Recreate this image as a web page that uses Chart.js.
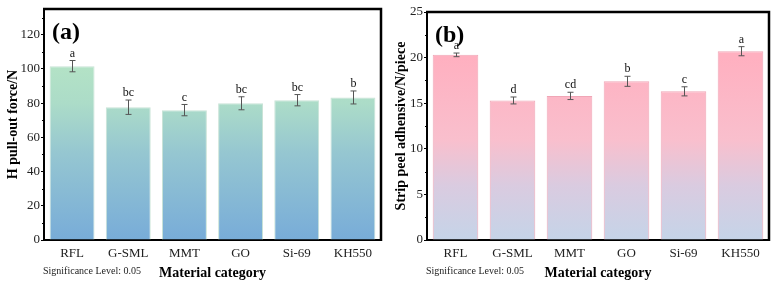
<!DOCTYPE html>
<html lang="en">
<head>
    <meta charset="UTF-8">
    <title>Pull-out force and strip peel</title>
    <script src="https://cdn.jsdelivr.net/npm/chart.js@4.4.0/dist/chart.umd.min.js"></script>
    <style>
        body {
            margin: 0;
            background: #fff;
            width: 778px;
            height: 288px;
            overflow: hidden;
        }
        .wrap {
            display: flex;
        }
        canvas {
            display: block;
        }
    </style>
</head>
<body>
    <div class="wrap">
        <canvas id="chartA" width="388" height="288"></canvas>
        <canvas id="chartB" width="390" height="288"></canvas>
    </div>

    <script>
        // data
        var categories = ['RFL', 'G-SML', 'MMT', 'GO', 'Si-69', 'KH550'];

        var pullOut = [101.6, 77.6, 75.9, 79.9, 81.7, 83.3];
        var pullOutErr = [3.3, 4.2, 3.3, 3.8, 3.3, 3.8];
        var pullOutLetters = ['a', 'bc', 'c', 'bc', 'bc', 'b'];

        var peel = [20.3, 15.3, 15.8, 17.4, 16.3, 20.7];
        var peelErr = [0.2, 0.38, 0.4, 0.55, 0.5, 0.5];
        var peelLetters = ['a', 'd', 'cd', 'b', 'c', 'a'];

        var FONT = "'Liberation Serif', 'Times New Roman', serif";

        // vertical gradient in value space: stops = [[frac, color], ...]
        function makeGradient(topValue, stops, fallback) {
            return function(context) {
                var chart = context.chart;
                if (!chart.chartArea) return fallback;
                var y = chart.scales.y;
                var g = chart.ctx.createLinearGradient(0, y.getPixelForValue(0), 0, y.getPixelForValue(topValue));
                stops.forEach(function(s) { g.addColorStop(s[0], s[1]); });
                return g;
            };
        }

        // error bars, letters, frame, minor ticks, labels
        var extras = {
            id: 'extras',
            afterDatasetsDraw: function(chart, args, opts) {
                var ctx = chart.ctx;
                var area = chart.chartArea;
                var x = chart.scales.x, y = chart.scales.y;
                ctx.save();

                // error bars + significance letters
                ctx.strokeStyle = '#555';
                ctx.lineWidth = 1;
                ctx.fillStyle = '#111';
                ctx.font = '12px ' + FONT;
                ctx.textAlign = 'center';
                ctx.textBaseline = 'bottom';
                opts.values.forEach(function(v, i) {
                    var cx = Math.round(x.getPixelForValue(i)) + 0.5;
                    var yt = y.getPixelForValue(v + opts.err[i]);
                    var yb = y.getPixelForValue(v - opts.err[i]);
                    ctx.beginPath();
                    ctx.moveTo(cx, yt); ctx.lineTo(cx, yb);
                    ctx.moveTo(cx - 3, yt); ctx.lineTo(cx + 3, yt);
                    ctx.moveTo(cx - 3, yb); ctx.lineTo(cx + 3, yb);
                    ctx.stroke();
                    ctx.fillText(opts.letters[i], cx, yt - 1);
                });

                // minor ticks on y
                ctx.strokeStyle = '#000';
                ctx.lineWidth = 1;
                ctx.beginPath();
                for (var m = opts.minor; m < y.max; m += opts.minor * 2) {
                    var py = Math.round(y.getPixelForValue(m)) + 0.5;
                    ctx.moveTo(area.left - 2, py);
                    ctx.lineTo(area.left, py);
                }
                ctx.stroke();

                // top and right frame
                ctx.lineWidth = 2.5;
                ctx.beginPath();
                ctx.moveTo(area.left - 1, area.top);
                ctx.lineTo(area.right, area.top);
                ctx.lineTo(area.right, area.bottom + 1);
                ctx.stroke();

                // panel label
                ctx.fillStyle = '#000';
                ctx.font = 'bold 24px ' + FONT;
                ctx.textAlign = 'left';
                ctx.textBaseline = 'alphabetic';
                ctx.fillText(opts.panel, area.left + 8, area.top + 30);

                // significance note
                ctx.font = '10px ' + FONT;
                ctx.fillStyle = '#222';
                ctx.textBaseline = 'middle';
                ctx.fillText('Significance Level: 0.05', area.left - 1, 271);

                ctx.restore();
            }
        };

        function buildChart(id, opt) {
            var ctx = document.getElementById(id).getContext('2d');
            return new Chart(ctx, {
                type: 'bar',
                data: {
                    labels: categories,
                    datasets: [{
                        data: opt.values,
                        backgroundColor: opt.fill,
                        borderColor: opt.border,
                        borderWidth: 1,
                        categoryPercentage: 1,
                        barPercentage: 0.8
                    }]
                },
                plugins: [extras],
                options: {
                    responsive: false,
                    animation: false,
                    layout: { padding: { top: opt.padTop, right: opt.padRight, left: 0, bottom: 0 } },
                    plugins: {
                        legend: { display: false },
                        tooltip: { enabled: false },
                        extras: {
                            values: opt.values,
                            err: opt.err,
                            letters: opt.letters,
                            minor: opt.step / 2,
                            panel: opt.panel
                        }
                    },
                    scales: {
                        x: {
                            grid: { display: false, drawTicks: false },
                            border: { display: true, color: '#000', width: 2 },
                            ticks: {
                                color: '#222', padding: 6, maxRotation: 0, minRotation: 0, autoSkip: false,
                                font: { family: FONT, size: 13 }
                            },
                            title: {
                                display: true,
                                text: 'Material category',
                                color: '#000',
                                padding: { top: 0, bottom: 6 },
                                font: { family: FONT, size: 14, weight: 'bold' }
                            },
                            afterFit: function(s) { s.height = 48; }
                        },
                        y: {
                            min: 0,
                            max: opt.max,
                            grid: { drawOnChartArea: false, drawTicks: true, tickLength: 3, color: '#000' },
                            border: { display: true, color: '#000', width: 2 },
                            ticks: { stepSize: opt.step, color: '#222', padding: 1, font: { family: FONT, size: 13 } },
                            afterBuildTicks: function(s) {
                                s.ticks = s.ticks.filter(function(t) { return Math.abs(t.value / opt.step - Math.round(t.value / opt.step)) < 1e-6; });
                            },
                            title: {
                                display: true,
                                text: opt.yTitle,
                                color: '#000',
                                padding: { top: 5, bottom: 0 },
                                font: { family: FONT, size: 14, weight: 'bold' }
                            },
                            afterFit: function(s) { s.width = opt.yWidth; }
                        }
                    }
                }
            });
        }

        buildChart('chartA', {
            values: pullOut,
            err: pullOutErr,
            letters: pullOutLetters,
            max: 135,
            step: 20,
            panel: '(a)',
            yTitle: 'H pull-out force/N',
            yWidth: 44,
            padTop: 9,
            padRight: 7,
            border: '#c9e3d6',
            fill: makeGradient(100, [[0, '#78acd8'], [0.5, '#95c6d1'], [0.8, '#acdcc8'], [1, '#b3e2c6']], '#a8d8c8')
        });

        buildChart('chartB', {
            values: peel,
            err: peelErr,
            letters: peelLetters,
            max: 25,
            step: 5,
            panel: '(b)',
            yTitle: 'Strip peel adhensive/N/piece',
            yWidth: 39,
            padTop: 12,
            padRight: 9,
            border: '#f0a6b6',
            fill: makeGradient(20, [[0, '#c5d4e8'], [0.3, '#dacbe0'], [0.55, '#f9bfcd'], [1, '#ffb0c0']], '#ffb6c5')
        });
    </script>
</body>
</html>
